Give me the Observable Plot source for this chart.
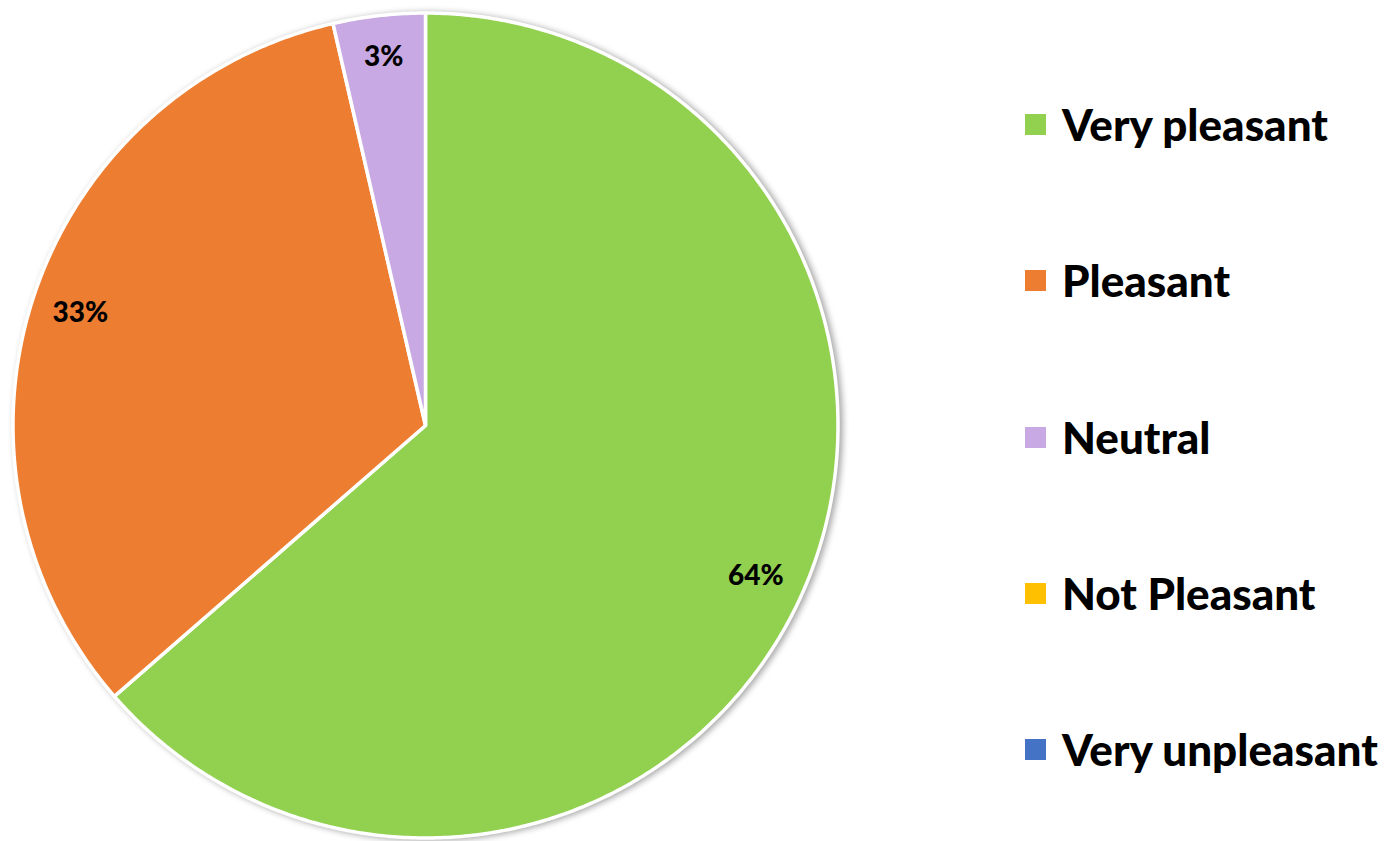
<!DOCTYPE html>
<html>
<head>
<meta charset="utf-8">
<script src="https://cdn.jsdelivr.net/npm/d3@7"></script>
<script src="https://cdn.jsdelivr.net/npm/@observablehq/plot@0.6"></script>
<style>
  html, body { margin: 0; padding: 0; background: #fff; }
  #wrap { position: relative; width: 1400px; height: 841px; overflow: hidden; }
  #legend { position: absolute; left: 1025px; top: 0; font-family: Lato, "Open Sans", sans-serif; font-weight: 900; }
  .item { position: absolute; left: 0; display: flex; align-items: center; white-space: nowrap; height: 50px; }
  .sw { width: 21px; height: 21px; margin-right: 16px; }
  .lab { font-size: 44px; color: #000; }
</style>
</head>
<body>
<div id="wrap"><div id="legend"></div></div>
<script>
const categories = ["Very pleasant", "Pleasant", "Neutral", "Not Pleasant", "Very unpleasant"];
const values = [63.6, 32.8, 3.6, 0, 0];
const valueLabels = ["64%", "33%", "3%", "", ""];
const colors = ["#92D050", "#ED7D31", "#C9A9E3", "#FFC000", "#4472C4"];

const data = categories.map((c, i) => ({cat: c, value: values[i], label: valueLabels[i]}));
const arcs = d3.pie().sort(null).value(d => d.value)(data);

// polygon outline points for each slice (angles clockwise from 12 o'clock)
const pts = [];
for (const a of arcs) {
  if (a.endAngle - a.startAngle <= 0) continue;
  const n = Math.max(2, Math.ceil((a.endAngle - a.startAngle) / (Math.PI / 360)));
  pts.push({cat: a.data.cat, x: 0, y: 0});
  for (let k = 0; k <= n; k++) {
    const t = a.startAngle + (a.endAngle - a.startAngle) * k / n;
    pts.push({cat: a.data.cat, x: Math.sin(t), y: Math.cos(t)});
  }
}
const labels = arcs.filter(a => a.data.value > 0).map(a => {
  const m = (a.startAngle + a.endAngle) / 2;
  const r = a.data.value < 10 ? 0.9 : 0.88;
  return {x: r * Math.sin(m), y: r * Math.cos(m), text: a.data.label};
});

const chart = Plot.plot({
  width: 1400,
  height: 841,
  marginLeft: 12.5,
  marginRight: 562.5,
  marginTop: 12.5,
  marginBottom: 3.5,
  x: {domain: [-1, 1], axis: null},
  y: {domain: [-1, 1], axis: null},
  color: {domain: categories, range: colors},
  style: {background: "transparent", overflow: "visible"},
  marks: [
    Plot.line(pts, {x: "x", y: "y", z: "cat", fill: "cat", stroke: "white", strokeWidth: 3.5, strokeLinejoin: "round", curve: "linear-closed"}),
    Plot.text(labels, {x: "x", y: "y", text: "text", fontSize: 28, fontWeight: 900, fill: "#000", fontFamily: "Lato, 'Open Sans', sans-serif"})
  ]
});
d3.select(chart).selectAll("g[aria-label=line]").style("filter", "drop-shadow(3px 1px 3px rgba(0,0,0,0.35))");
document.getElementById("wrap").prepend(chart);

const centers = [124, 280, 437, 593, 749];
const legend = document.getElementById("legend");
categories.forEach((c, i) => {
  const it = document.createElement("div");
  it.className = "item";
  it.style.top = (centers[i] - 25) + "px";
  const sw = document.createElement("div");
  sw.className = "sw";
  sw.style.background = colors[i];
  const lab = document.createElement("span");
  lab.className = "lab";
  lab.textContent = c;
  it.append(sw, lab);
  legend.append(it);
});
</script>
</body>
</html>
